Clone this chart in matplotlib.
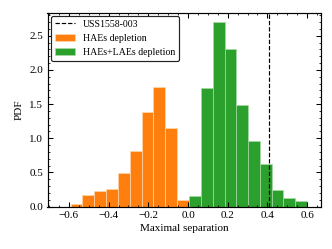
import numpy as np
import matplotlib
matplotlib.use("Agg")
import matplotlib.pyplot as plt

# histogram bin edges and heights (PDF)
hae_edges = [-0.592, -0.532, -0.473, -0.413, -0.353, -0.294, -0.234, -0.174, -0.114, -0.055, 0.005]
hae_pdf = [0.034, 0.17, 0.23, 0.26, 0.49, 0.815, 1.39, 1.75, 1.15, 0.10]

both_edges = [0.005, 0.065, 0.124, 0.184, 0.243, 0.303, 0.362, 0.422, 0.481, 0.541, 0.600]
both_pdf = [0.15, 1.73, 2.705, 2.30, 1.485, 0.96, 0.62, 0.244, 0.13, 0.083]

uss_sep = 0.410

plt.rcParams['font.family'] = 'serif'
plt.rcParams['font.serif'] = ['Liberation Serif', 'DejaVu Serif']
plt.rcParams['font.size'] = 8.5
plt.rcParams['xtick.direction'] = 'in'
plt.rcParams['ytick.direction'] = 'in'
plt.rcParams['xtick.top'] = True
plt.rcParams['ytick.right'] = True
plt.rcParams['xtick.minor.visible'] = True
plt.rcParams['ytick.minor.visible'] = True
plt.rcParams['xtick.major.size'] = 3.5
plt.rcParams['ytick.major.size'] = 3.5
plt.rcParams['xtick.minor.size'] = 1.8
plt.rcParams['ytick.minor.size'] = 1.8
plt.rcParams['xtick.major.width'] = 0.8
plt.rcParams['ytick.major.width'] = 0.8
plt.rcParams['xtick.minor.width'] = 0.6
plt.rcParams['ytick.minor.width'] = 0.6
plt.rcParams['axes.linewidth'] = 0.9

fig = plt.figure(figsize=(3.5, 2.625), dpi=332/3.5)
ax = fig.add_axes([47.5/332, 1 - 206.5/249, (321 - 47.5)/332, (206.5 - 12.5)/249])

ax.axvline(uss_sep, color='k', ls='--', lw=0.9, label='USS1558-003', zorder=3)
ax.hist(hae_edges[:-1], bins=hae_edges, weights=hae_pdf, color='#ff7f0e',
        edgecolor='#ffd9b0', linewidth=0.5, label='HAEs depletion')
ax.hist(both_edges[:-1], bins=both_edges, weights=both_pdf, color='#2ca02c',
        edgecolor='#a8dba8', linewidth=0.5, label='HAEs+LAEs depletion')

ax.set_xlim(-0.708, 0.670)
ax.set_ylim(0, 2.842)
ax.set_xticks([-0.6, -0.4, -0.2, 0.0, 0.2, 0.4, 0.6])
ax.set_yticks([0.0, 0.5, 1.0, 1.5, 2.0, 2.5])
ax.set_xlabel('Maximal separation', labelpad=3)
ax.set_ylabel('PDF')

leg = ax.legend(loc='upper left', fancybox=True, framealpha=1, borderaxespad=0.35,
                handlelength=2.0, fontsize=7.5)
leg.get_frame().set_edgecolor('#222222')
leg.get_frame().set_linewidth(0.9)

fig.savefig('out.png', dpi=332/3.5)
